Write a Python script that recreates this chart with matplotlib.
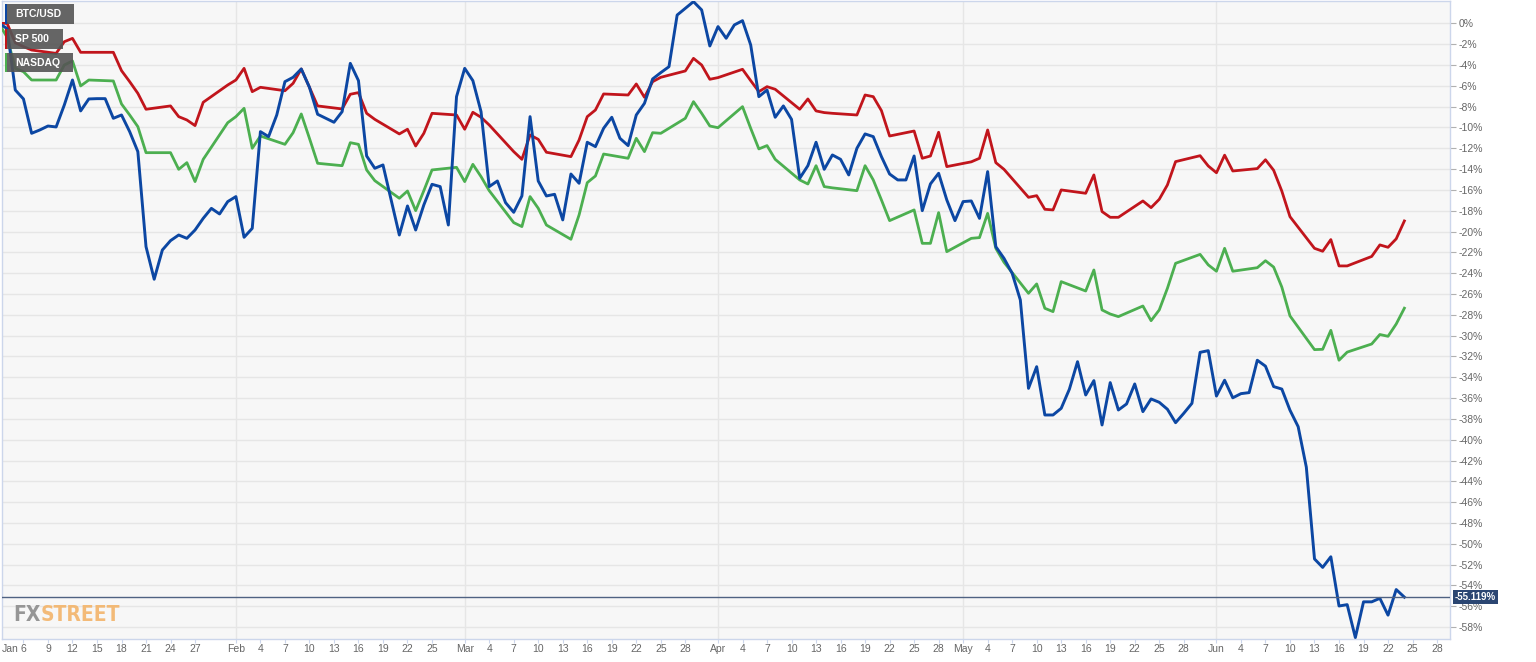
import matplotlib
matplotlib.use('Agg')
import matplotlib.pyplot as plt
import pandas as pd
import numpy as np
from matplotlib.patches import Rectangle
from matplotlib import font_manager

plt.rcParams['font.family'] = ['Liberation Sans', 'DejaVu Sans']

# % change since Jan 3 2022
btc_dates = pd.date_range('2022-01-03', '2022-06-24', freq='D')
btc = [
    0, -0.5, -6.4, -7.26, -10.56, -10.24, -9.86,
    -9.95, -7.84, -5.44, -8.41, -7.26, -7.23, -7.23,
    -9.12, -8.8, -10.4, -12.32, -21.45, -24.58, -21.77,
    -20.87, -20.33, -20.65, -19.85, -18.73, -17.77, -18.31,
    -17.12, -16.64, -20.55, -19.69, -10.4, -10.88, -8.8,
    -5.6, -5.18, -4.38, -6.14, -8.73, -9.12, -9.5,
    -8.48, -3.84, -5.5, -12.74, -13.92, -13.6, -16.96,
    -20.33, -17.54, -19.85, -17.44, -15.46, -15.68, -19.37,
    -7.04, -4.32, -5.5, -8.48, -15.68, -15.14, -17.22,
    -18.15, -16.58, -8.96, -15.14, -16.58, -16.42, -18.88,
    -14.47, -15.36, -11.42, -11.84, -10.08, -9.02, -11.04,
    -11.74, -8.8, -7.68, -5.34, -4.73, -4.16, 0.8,
    1.45, 2.09, 1.29, -2.17, -0.31, -1.43, -0.15,
    0.26, -2.07, -7.04, -6.4, -9.02, -7.93, -9.22,
    -14.88, -13.67, -11.42, -14.02, -12.64, -13.06, -14.56,
    -12.0, -10.62, -10.88, -12.8, -14.47, -15.04, -15.04,
    -12.74, -17.99, -15.42, -14.4, -16.96, -18.95, -17.12,
    -17.06, -18.73, -14.24, -21.45, -22.57, -24.01, -26.57,
    -35.06, -32.98, -37.62, -37.62, -36.98, -35.15, -32.5,
    -35.7, -34.32, -38.58, -34.51, -37.14, -36.56, -34.64,
    -37.3, -36.08, -36.4, -37.07, -38.36, -37.46, -36.5,
    -31.6, -31.44, -35.8, -34.28, -35.97, -35.57, -35.47,
    -32.36, -32.93, -34.89, -35.13, -37.16, -38.74, -42.63,
    -51.45, -52.26, -51.24, -55.97, -55.84, -59.0, -55.57,
    -55.57, -55.23, -56.85, -54.39, -55.119,
]

stock_dates = pd.bdate_range('2022-01-03', '2022-06-24')
sp500 = [
    0, 0, -1.86, -2.23, -2.56,
    -2.88, -1.76, -1.44, -2.78, -2.78,
    -2.78, -4.54, -5.6, -6.72, -8.25,
    -7.93, -8.96, -9.28, -9.82, -7.58,
    -5.92, -5.44, -4.32, -6.56, -6.14,
    -6.47, -5.76, -4.38, -6.14, -7.93,
    -8.22, -6.81, -6.65, -8.64, -9.22,
    -10.62, -10.17, -11.78, -10.56, -8.64,
    -8.8, -10.17, -8.54, -9.02, -9.76,
    -12.32, -13.06, -10.72, -11.14, -12.38,
    -12.8, -11.2, -8.96, -8.32, -6.78,
    -6.88, -5.82, -7.1, -5.6, -5.18,
    -4.57, -3.36, -4.0, -5.37, -5.21,
    -4.41, -5.5, -6.56, -6.08, -6.33,
    -8.25, -7.26, -8.41, -8.57, -8.64,
    -8.8, -6.88, -7.04, -8.38, -10.82,
    -10.34, -12.96, -12.74, -10.46, -13.76,
    -13.3, -12.96, -10.24, -13.38, -14.02,
    -16.71, -16.55, -17.86, -17.92, -16.0,
    -16.32, -14.56, -18.08, -18.63, -18.63,
    -17.06, -17.7, -16.9, -15.52, -13.28,
    -12.71, -13.7, -14.35, -12.66, -14.18,
    -13.95, -13.1, -14.11, -16.11, -18.57,
    -21.61, -21.89, -20.77, -23.3, -23.3,
    -22.39, -21.28, -21.51, -20.7, -18.98,
]
nasdaq = [
    0, -1.34, -4.32, -4.64, -5.44,
    -5.44, -4.0, -3.61, -6.01, -5.44,
    -5.53, -7.74, -8.8, -9.92, -12.42,
    -12.42, -14.02, -13.38, -15.2, -13.06,
    -9.54, -8.96, -8.16, -12.0, -10.82,
    -11.62, -10.5, -8.7, -11.04, -13.44,
    -13.67, -11.46, -11.62, -14.08, -15.11,
    -16.8, -16.1, -17.99, -16.07, -14.08,
    -13.83, -15.2, -13.54, -14.72, -16.07,
    -19.14, -19.52, -16.64, -17.76, -19.37,
    -20.74, -18.4, -15.3, -14.66, -12.55,
    -12.96, -11.04, -12.32, -10.5, -10.56,
    -9.12, -7.52, -8.64, -9.86, -10.02,
    -8.0, -10.08, -12.06, -11.74, -13.06,
    -15.04, -15.43, -13.67, -15.68, -15.8,
    -16.07, -13.67, -15.04, -16.96, -18.95,
    -17.92, -21.13, -21.13, -18.18, -21.93,
    -20.65, -20.58, -18.25, -21.61, -22.95,
    -25.93, -25.03, -27.37, -27.69, -24.81,
    -25.71, -23.69, -27.53, -27.92, -28.17,
    -27.15, -28.56, -27.53, -25.45, -23.05,
    -22.19, -23.2, -23.81, -21.61, -23.81,
    -23.47, -22.8, -23.41, -25.33, -28.1,
    -31.34, -31.31, -29.49, -32.36, -31.58,
    -30.8, -29.89, -30.06, -28.88, -27.36,
]

series_names = ['BTC/USD', 'SP 500', 'NASDAQ']
series_colors = ['#0c47a3', '#c1151c', '#4caf50']

W, H = 1536, 662
fig = plt.figure(figsize=(W / 100, H / 100), dpi=100)
ax = fig.add_axes([2 / W, 1 - 639 / H, 1448 / W, 638 / H])
ax.set_facecolor('#f7f7f7')

ax.plot(stock_dates, nasdaq, color=series_colors[2], lw=2, zorder=3)
ax.plot(stock_dates, sp500, color=series_colors[1], lw=2, zorder=3)
ax.plot(btc_dates, btc, color=series_colors[0], lw=2.1, zorder=4)

ax.set_xlim(pd.Timestamp('2022-01-03 09:00'), pd.Timestamp('2022-06-29 14:00'))
ax.set_ylim(-59.14, 2.15)

# y axis on the right
yt = np.arange(0, -60, -2)
ax.set_yticks(yt)
ax.set_yticklabels([f'{v}%' for v in yt])
ax.yaxis.tick_right()
ax.yaxis.grid(True, color='#e6e6e6', lw=1)
ax.set_axisbelow(True)
ax.tick_params(axis='y', length=4, width=0.8, color='#b0b0b0', labelcolor='#666666',
               labelsize=7.5, pad=2)

# x ticks: month start plus every 3 days
months = ['Jan', 'Feb', 'Mar', 'Apr', 'May', 'Jun']
xt, xl = [], []
for m in range(1, 7):
    if m > 1:
        xt.append(pd.Timestamp(2022, m, 1))
        xl.append(months[m - 1])
    if m == 1:
        days = range(6, 28, 3)
    elif m == 2:
        days = range(4, 26, 3)
    else:
        days = range(4, 29, 3)
    for d in days:
        xt.append(pd.Timestamp(2022, m, d))
        xl.append(str(d))
ax.set_xticks(xt)
ax.set_xticklabels(xl)
ax.tick_params(axis='x', length=3, width=0.8, color='#ccd6eb', labelcolor='#666666',
               labelsize=7.5, pad=0.5)
ax.text(0, -0.0077, 'Jan', transform=ax.transAxes, ha='left', va='top',
        fontsize=7.5, color='#666666')
for m in range(2, 7):
    ax.axvline(pd.Timestamp(2022, m, 1), color='#e6e6e6', lw=1, zorder=1)

for s in ax.spines.values():
    s.set_color('#ccd6eb')
    s.set_linewidth(1)

# last value line and label
last = btc[-1]
ax.axhline(last, color='#4f6282', lw=1, zorder=5)
ax.annotate(f'{last:.3f}%', xy=(1, last), xycoords=('axes fraction', 'data'),
            xytext=(3.5, 0), textcoords='offset points', ha='left', va='center',
            color='white', fontsize=7, fontweight='bold', annotation_clip=False,
            bbox=dict(boxstyle='square,pad=0.2', fc='#2b4672', ec='none'))

# legend boxes
boxes = [(5, 4, 74, 24), (5, 29, 63, 49), (5, 53, 73, 72)]
for (x0, y0, x1, y1), name, c in zip(boxes, series_names, series_colors):
    fig.add_artist(Rectangle((x0 / W, 1 - y1 / H), (x1 - x0) / W, (y1 - y0) / H,
                             transform=fig.transFigure, fc='#555555', ec='none',
                             alpha=0.9, zorder=6))
    fig.add_artist(Rectangle((x0 / W, 1 - y1 / H), 2 / W, (y1 - y0) / H,
                             transform=fig.transFigure, fc=c, ec='none', zorder=7))
    fig.text(15 / W, 1 - (y0 + y1) / 2 / H, name, color='white', fontweight='bold',
             fontsize=7.5, va='center', ha='left', zorder=8)

# watermark
names = {f.name for f in font_manager.fontManager.ttflist}
wm_font = 'Liberation Sans Narrow' if 'Liberation Sans Narrow' in names else 'DejaVu Sans'
fx = fig.text(13 / W, 1 - 621 / H, 'FX', color='#8c8c8c', fontsize=15, fontweight='bold',
              family=wm_font, fontstretch='condensed', va='baseline', alpha=0.9, zorder=6)
fig.canvas.draw()
ax.annotate('STREET', xy=(1, 0), xycoords=fx, color='#f3b46a', fontsize=15,
            fontweight='bold', family=wm_font, fontstretch='condensed', va='bottom',
            ha='left', alpha=0.9, annotation_clip=False, zorder=6)

fig.savefig('out.png', dpi=100, facecolor='white')
